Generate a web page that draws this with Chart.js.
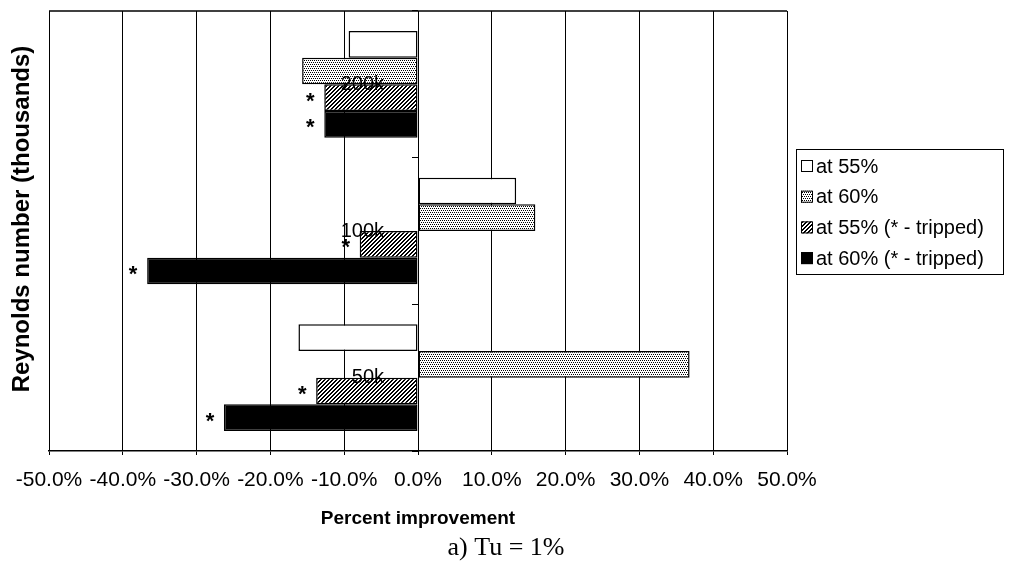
<!DOCTYPE html>
<html>
<head>
<meta charset="utf-8">
<script src="https://cdn.jsdelivr.net/npm/chart.js@4"></script>
<style>
  html, body { margin: 0; padding: 0; background: #fff; }
  #chart_bar { display: block; }
</style>
</head>
<body>
<canvas id="chart_bar" width="1013" height="571"></canvas>
<script>
// categories, top to bottom
const reynolds = ['200k', '100k', '50k'];
// percent improvement per series
const at55 = [-9.4, 13.3, -16.2];
const at60 = [-15.7, 15.9, 36.8];
const at55Tripped = [-12.7, -7.9, -13.8];
const at60Tripped = [-12.7, -36.7, -26.3];
// x tick values (percent)
const xTicks = [-50, -40, -30, -20, -10, 0, 10, 20, 30, 40, 50];

const seriesNames = ['at 55%', 'at 60%', 'at 55% (* - tripped)', 'at 60% (* - tripped)'];

const canvas = document.querySelector('#chart_bar');
const ctx0 = canvas.getContext('2d');

// small b/w fill patterns like the old excel print
function makePattern(draw) {
    const c = document.createElement('canvas');
    c.width = 4; c.height = 4;
    const g = c.getContext('2d');
    g.fillStyle = '#fff';
    g.fillRect(0, 0, 4, 4);
    g.fillStyle = '#000';
    draw(g);
    return ctx0.createPattern(c, 'repeat');
}
const dotted = makePattern(g => {
    g.fillRect(0, 0, 1, 1); g.fillRect(2, 0, 1, 1);
    g.fillRect(1, 2, 1, 1); g.fillRect(3, 2, 1, 1);
});
const hatched = makePattern(g => {
    for (let i = 0; i < 4; i++) {
        g.fillRect(i, 3 - i, 1, 1);
        g.fillRect((i + 1) % 4, 3 - i, 1, 1);
    }
});
const fills = ['#fff', dotted, hatched, '#000'];

//labels, asterisks, legend box, y title, caption
const extras = {
    id: 'extras',
    beforeDatasetsDraw(chart) {
        const { ctx, chartArea: { left, right, top } } = chart;
        ctx.save();
        ctx.strokeStyle = '#000';
        ctx.lineWidth = 1.5;
        ctx.beginPath();
        ctx.moveTo(left, top);
        ctx.lineTo(right, top);
        ctx.stroke();
        ctx.restore();
    },
    afterDatasetsDraw(chart) {
        const { ctx, scales: { x, y } } = chart;
        const x0 = x.getPixelForValue(0);
        ctx.save();
        ctx.fillStyle = '#000';

        // category labels sit on the zero line
        ctx.font = '20px "Liberation Sans", Arial, sans-serif';
        ctx.textAlign = 'right';
        ctx.textBaseline = 'middle';
        reynolds.forEach((lab, i) => {
            ctx.fillText(lab, x0 - 34, y.getPixelForValue(i));
        });

        // tripped runs get a star
        ctx.font = 'bold 22px "Liberation Sans", Arial, sans-serif';
        ctx.textAlign = 'center';
        [2, 3].forEach(di => {
            chart.getDatasetMeta(di).data.forEach(bar => {
                ctx.fillText('*', bar.x - 14, bar.y + 4);
            });
        });

        // legend
        const lx = 796, ly = 149, lw = 207, lh = 125;
        ctx.fillStyle = '#fff';
        ctx.fillRect(lx, ly, lw, lh);
        ctx.strokeStyle = '#000';
        ctx.lineWidth = 1;
        ctx.strokeRect(lx + 0.5, ly + 0.5, lw, lh);
        ctx.font = '20px "Liberation Sans", Arial, sans-serif';
        ctx.textAlign = 'left';
        chart.data.datasets.forEach((ds, i) => {
            const cy = ly + 17 + i * 30.7;
            ctx.fillStyle = ds.backgroundColor;
            ctx.fillRect(lx + 5, cy - 6, 12, 12);
            ctx.strokeRect(lx + 5.5, cy - 5.5, 11, 11);
            ctx.fillStyle = '#000';
            ctx.fillText(ds.label, lx + 20, cy + 1);
        });

        // y axis title
        ctx.save();
        ctx.translate(22, 219);
        ctx.rotate(-Math.PI / 2);
        ctx.font = 'bold 24px "Liberation Sans", Arial, sans-serif';
        ctx.textAlign = 'center';
        ctx.fillText('Reynolds number (thousands)', 0, 0);
        ctx.restore();

        // figure caption under the chart
        ctx.font = '26px "Liberation Serif", "Times New Roman", serif';
        ctx.textAlign = 'center';
        ctx.fillText('a) Tu = 1%', 506, 548);

        ctx.restore();
    }
};

new Chart(canvas, {
    type: 'bar',
    data: {
        labels: reynolds,
        datasets: [at55, at60, at55Tripped, at60Tripped].map((vals, i) => ({
            label: seriesNames[i],
            data: vals,
            backgroundColor: fills[i],
            borderColor: '#000',
            borderWidth: 1.5,
            borderSkipped: false,
            barPercentage: 1,
            categoryPercentage: 0.727
        }))
    },
    options: {
        indexAxis: 'y',
        responsive: false,
        animation: false,
        layout: {
            padding: { left: 49, right: 226, top: 11, bottom: 41 }
        },
        scales: {
            x: {
                min: -50,
                max: 50,
                afterBuildTicks: scale => {
                    scale.ticks = xTicks.map(v => ({ value: v }));
                },
                grid: { color: '#000', lineWidth: 1, tickLength: 4 },
                border: { color: '#000', width: 1.5 },
                ticks: {
                    autoSkip: false,
                    maxRotation: 0,
                    padding: 13,
                    color: '#000',
                    font: { family: '"Liberation Sans", Arial, sans-serif', size: 21 },
                    callback: v => v.toFixed(1) + '%'
                },
                title: {
                    display: true,
                    text: 'Percent improvement',
                    color: '#000',
                    padding: { top: 1, bottom: 0 },
                    font: { family: '"Liberation Sans", Arial, sans-serif', size: 19, weight: 'bold' }
                }
            },
            y: {
                type: 'category',
                position: { x: 0 },
                grid: { offset: true, drawOnChartArea: false, tickLength: 6, color: '#000' },
                border: { color: '#000', width: 1 },
                ticks: { display: false }
            }
        },
        plugins: {
            legend: { display: false },
            tooltip: { enabled: false }
        }
    },
    plugins: [extras]
});
</script>
</body>
</html>
